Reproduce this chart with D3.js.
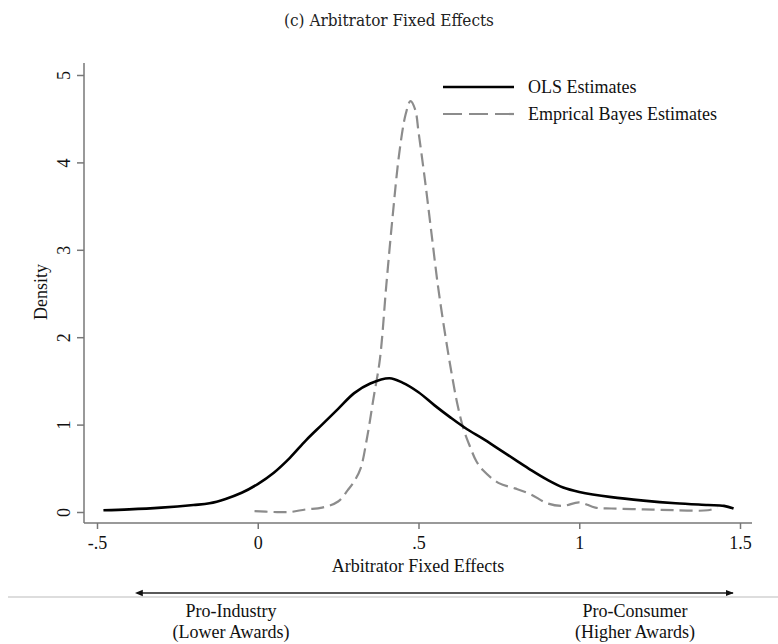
<!DOCTYPE html>
<html>
<head>
<meta charset="utf-8">
<script src="https://cdn.jsdelivr.net/npm/d3@7"></script>
<style>
  body { margin: 0; background: #fff; }
  svg { display: block; }
</style>
</head>
<body>
<svg id="chart" width="778" height="644"></svg>
<script>
// ---- data ----
const olsX = [-0.48,-0.4,-0.3,-0.2,-0.15,-0.1,-0.05,0,0.05,0.1,0.15,0.2,0.25,0.3,0.35,0.41,0.45,0.5,0.55,0.6,0.65,0.7,0.75,0.8,0.85,0.9,0.95,1.0,1.1,1.2,1.3,1.4,1.45,1.48];
const olsY = [0.02,0.03,0.05,0.08,0.1,0.15,0.22,0.32,0.45,0.62,0.82,1.0,1.18,1.36,1.47,1.53,1.48,1.37,1.22,1.08,0.95,0.84,0.72,0.6,0.48,0.37,0.28,0.23,0.17,0.13,0.1,0.08,0.07,0.04];
const ebX = [-0.01,0.05,0.1,0.15,0.2,0.25,0.28,0.3,0.32,0.34,0.36,0.38,0.4,0.42,0.44,0.46,0.475,0.49,0.5,0.52,0.54,0.56,0.58,0.6,0.62,0.64,0.66,0.68,0.7,0.75,0.8,0.85,0.9,0.95,1.0,1.05,1.1,1.2,1.3,1.4,1.43];
const ebY = [0.01,0.0,0.0,0.03,0.05,0.12,0.25,0.35,0.5,0.85,1.3,1.75,2.6,3.4,4.1,4.55,4.7,4.6,4.35,3.8,3.2,2.6,2.1,1.65,1.25,0.95,0.75,0.58,0.48,0.33,0.27,0.2,0.1,0.07,0.11,0.05,0.04,0.03,0.02,0.02,0.05];
const xTicks = [-0.5, 0, 0.5, 1, 1.5];
const xTickLabels = ["-.5", "0", ".5", "1", "1.5"];
const yTicks = [0, 1, 2, 3, 4, 5];
const seriesNames = ["OLS Estimates", "Emprical Bayes Estimates"];

const svg = d3.select("#chart");
const serif = "'Liberation Serif', 'Times New Roman', serif";
const fs = "18px";

const x = d3.scaleLinear().domain([-0.5, 1.5]).range([97, 740]);
const y = d3.scaleLinear().domain([0, 5]).range([512, 75]);

// title
svg.append("text")
  .attr("x", 389).attr("y", 26)
  .attr("text-anchor", "middle")
  .style("font-family", "'DejaVu Serif Condensed', 'DejaVu Serif', serif")
  .style("font-size", "17px")
  .attr("fill", "#222")
  .text("(c) Arbitrator Fixed Effects");

const axisColor = "#777";

// axis lines
svg.append("line").attr("x1", 84).attr("x2", 84).attr("y1", 63).attr("y2", 523)
  .attr("stroke", axisColor).attr("stroke-width", 1.5);
svg.append("line").attr("x1", 84).attr("x2", 752).attr("y1", 523).attr("y2", 523)
  .attr("stroke", axisColor).attr("stroke-width", 1.5);

// x axis
const xAxis = svg.append("g").attr("transform", "translate(0,523)")
  .call(d3.axisBottom(x).tickValues(xTicks).tickFormat((d, i) => xTickLabels[i]).tickSize(6).tickSizeOuter(0).tickPadding(7));
xAxis.select(".domain").remove();
xAxis.selectAll(".tick line").attr("stroke", axisColor).attr("stroke-width", 1.5);
xAxis.selectAll(".tick text").style("font-family", serif).style("font-size", fs).attr("fill", "#111");

// y axis
const yAxis = svg.append("g").attr("transform", "translate(84,0)")
  .call(d3.axisLeft(y).tickValues(yTicks).tickFormat(d3.format("d")).tickSize(7).tickSizeOuter(0));
yAxis.select(".domain").remove();
yAxis.selectAll(".tick line").attr("stroke", axisColor).attr("stroke-width", 1.5);
yAxis.selectAll(".tick text")
  .attr("x", 0).attr("dy", 0)
  .attr("transform", "translate(-14,0) rotate(-90)")
  .attr("text-anchor", "middle")
  .style("font-family", serif).style("font-size", fs).attr("fill", "#111");

// axis titles
svg.append("text").attr("x", 418).attr("y", 572).attr("text-anchor", "middle")
  .style("font-family", serif).style("font-size", fs).attr("fill", "#111")
  .text("Arbitrator Fixed Effects");
svg.append("text").attr("transform", "translate(47,292) rotate(-90)").attr("text-anchor", "middle")
  .style("font-family", serif).style("font-size", fs).attr("fill", "#111")
  .text("Density");

// curves
const line = d3.line().x(d => x(d[0])).y(d => y(d[1])).curve(d3.curveCatmullRom.alpha(0.5));
const olsData = olsX.map((v, i) => [v, olsY[i]]);
const ebData = ebX.map((v, i) => [v, ebY[i]]);

svg.append("path").datum(ebData).attr("d", line)
  .attr("fill", "none").attr("stroke", "#8c8c8c").attr("stroke-width", 2.2)
  .attr("stroke-dasharray", "13,6");
svg.append("path").datum(olsData).attr("d", line)
  .attr("fill", "none").attr("stroke", "#000").attr("stroke-width", 2.6);

// legend
const legend = svg.append("g");
const legY = [87, 114];
legend.append("line").attr("x1", 443).attr("x2", 514).attr("y1", legY[0]).attr("y2", legY[0])
  .attr("stroke", "#000").attr("stroke-width", 2.6);
legend.append("line").attr("x1", 443).attr("x2", 514).attr("y1", legY[1]).attr("y2", legY[1])
  .attr("stroke", "#8c8c8c").attr("stroke-width", 2.2).attr("stroke-dasharray", "19,7");
seriesNames.forEach((n, i) => {
  legend.append("text").attr("x", 528).attr("y", legY[i] + 6)
    .style("font-family", serif).style("font-size", fs).attr("fill", "#111").text(n);
});

// bottom arrow
const defs = svg.append("defs");
defs.append("marker").attr("id", "arrEnd").attr("viewBox", "0 0 10 10").attr("refX", 9).attr("refY", 5)
  .attr("markerWidth", 8).attr("markerHeight", 8).attr("markerUnits", "userSpaceOnUse").attr("orient", "auto")
  .append("path").attr("d", "M0,1 L10,5 L0,9 Z").attr("fill", "#111");
defs.append("marker").attr("id", "arrStart").attr("viewBox", "0 0 10 10").attr("refX", 1).attr("refY", 5)
  .attr("markerWidth", 8).attr("markerHeight", 8).attr("markerUnits", "userSpaceOnUse").attr("orient", "auto-start-reverse")
  .append("path").attr("d", "M0,1 L10,5 L0,9 Z").attr("fill", "#111");

svg.append("line").attr("x1", 8).attr("x2", 778).attr("y1", 597).attr("y2", 597)
  .attr("stroke", "#bbb").attr("stroke-width", 1);
svg.append("line").attr("x1", 142).attr("x2", 733).attr("y1", 593).attr("y2", 593)
  .attr("stroke", "#222").attr("stroke-width", 1.3)
  .attr("marker-start", "url(#arrStart)").attr("marker-end", "url(#arrEnd)");

const bottomLabels = [
  { cx: 231, lines: ["Pro-Industry", "(Lower Awards)"] },
  { cx: 635, lines: ["Pro-Consumer", "(Higher Awards)"] }
];
bottomLabels.forEach(b => {
  b.lines.forEach((t, i) => {
    svg.append("text").attr("x", b.cx).attr("y", 617 + i * 21).attr("text-anchor", "middle")
      .style("font-family", serif).style("font-size", fs).attr("fill", "#111").text(t);
  });
});
</script>
</body>
</html>
